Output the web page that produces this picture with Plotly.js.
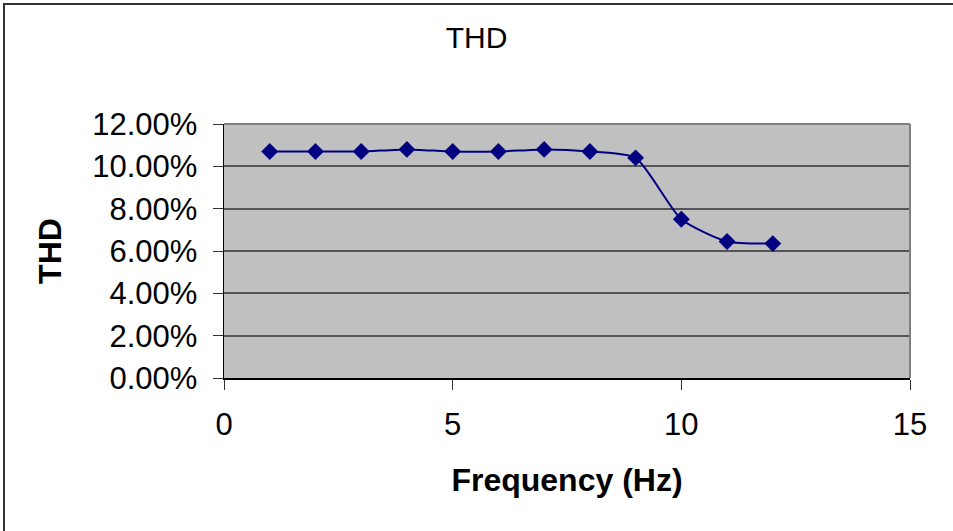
<!DOCTYPE html>
<html>
<head>
<meta charset="utf-8">
<script src="https://cdn.plot.ly/plotly-3.0.1.min.js"></script>
<style>
html,body{margin:0;padding:0;background:#fff;}
#wrap{position:relative;width:953px;height:531px;overflow:hidden;}
#chart{position:absolute;left:0;top:0;width:953px;height:531px;}
#topline{position:absolute;left:3px;top:3px;width:950px;height:2px;background:#333;pointer-events:none;}
#leftline{position:absolute;left:3px;top:3px;width:2px;height:528px;background:#333;pointer-events:none;}
</style>
</head>
<body>
<div id="wrap"><div id="chart"></div><div id="topline"></div><div id="leftline"></div></div>
<script>
const frequency = [1, 2, 3, 4, 5, 6, 7, 8, 9, 10, 11, 12];
const thd = [0.107, 0.107, 0.107, 0.108, 0.107, 0.107, 0.108, 0.107, 0.104, 0.075, 0.0645, 0.0635];
const yTicks = [0, 0.02, 0.04, 0.06, 0.08, 0.10, 0.12];
const xTicks = [0, 5, 10, 15];

const font = 'Liberation Sans, Arial, sans-serif';
Plotly.newPlot('chart', [{
  x: frequency,
  y: thd,
  type: 'scatter',
  mode: 'lines+markers',
  line: {color: '#000080', width: 2, shape: 'spline', smoothing: 0.6},
  marker: {symbol: 'diamond', size: 13, color: '#000080'},
  showlegend: false
}], {
  width: 953, height: 531,
  margin: {l: 224, r: 43, t: 124, b: 153},
  paper_bgcolor: '#ffffff',
  plot_bgcolor: '#c0c0c0',
  title: {text: 'THD', font: {family: font, size: 30, color: '#000'}, x: 0.5, xanchor: 'center', y: 0.929, yanchor: 'middle'},
  xaxis: {
    range: [0, 15], tickvals: xTicks, ticktext: xTicks.map(String),
    showgrid: false, zeroline: false,
    showline: true, linecolor: '#000', linewidth: 1.5,
    ticks: 'outside', ticklen: 10, tickcolor: '#333',
    ticklabelstandoff: 8,
    tickfont: {family: font, size: 31, color: '#000'},
    title: {text: '<b>Frequency (Hz)</b>', font: {family: font, size: 32, color: '#000'}, standoff: 28}
  },
  yaxis: {
    range: [0, 0.12], tickvals: yTicks, tickformat: '.2%',
    showgrid: true, gridcolor: '#555555', gridwidth: 2, zeroline: false,
    showline: true, linecolor: '#000', linewidth: 1.5,
    ticks: 'outside', ticklen: 10, tickcolor: '#333',
    ticklabelstandoff: 9,
    tickfont: {family: font, size: 31, color: '#000'},
    title: {text: '<b>THD</b>', font: {family: font, size: 32, color: '#000'}, standoff: 21}
  },
  shapes: [
    {type: 'line', xref: 'paper', yref: 'paper', x0: 0, x1: 1, y0: 1, y1: 1, line: {color: '#808080', width: 2}},
    {type: 'line', xref: 'paper', yref: 'paper', x0: 1, x1: 1, y0: 0, y1: 1, line: {color: '#808080', width: 2}}
  ]
}, {displayModeBar: false, staticPlot: true});
</script>
</body>
</html>
